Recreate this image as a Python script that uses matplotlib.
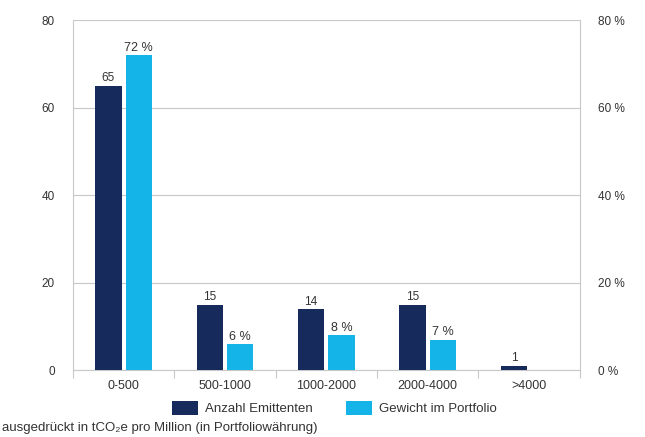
import numpy as np
import matplotlib
matplotlib.use('Agg')
import matplotlib.pyplot as plt

plt.rcParams['font.family'] = ['Liberation Sans', 'DejaVu Sans']

# emission intensity buckets
categories = ['0-500', '500-1000', '1000-2000', '2000-4000', '>4000']
anzahl = [65, 15, 14, 15, 1]          # number of issuers
gewicht = [72, 6, 8, 7, 0]            # portfolio weight in %

dark = '#172a5c'
light = '#14b4e8'
txt = '#333333'

fig = plt.figure(figsize=(6.45, 4.37), dpi=100)
ax = fig.add_axes([0.113, 0.153, 0.786, 0.801])

x = np.arange(len(categories))
w = 0.26
b1 = ax.bar(x - 0.15, anzahl, w, color=dark, label='Anzahl Emittenten', zorder=3)
b2 = ax.bar(x + 0.15, gewicht, w, color=light, label='Gewicht im Portfolio', zorder=3)

for rect, v in zip(b1, anzahl):
    ax.text(rect.get_x() + rect.get_width() / 2, v + 0.3, str(v),
            ha='center', va='bottom', fontsize=8.5, color=txt, zorder=4)
for rect, v in zip(b2, gewicht):
    if v > 0:
        ax.text(rect.get_x() + rect.get_width() / 2, v + 0.3, '%d %%' % v,
                ha='center', va='bottom', fontsize=9, color=txt, zorder=4)

ax.set_xlim(-0.5, len(categories) - 0.5)
ax.set_ylim(0, 80)
ax.set_yticks([0, 20, 40, 60, 80])
ax.grid(axis='y', color='#c8c8c8', linewidth=0.8, zorder=0)
ax.set_xticks(x)
ax.set_xticklabels(categories)
ax.set_xticks(np.arange(len(categories) + 1) - 0.5, minor=True)
ax.tick_params(axis='x', which='major', length=0, pad=7, labelsize=9, labelcolor=txt)
ax.tick_params(axis='x', which='minor', length=6, color='#c8c8c8', width=0.8)
ax.tick_params(axis='y', length=0, pad=13, labelsize=8.5, labelcolor=txt)
for s in ['left', 'right', 'bottom', 'top']:
    ax.spines[s].set_color('#c8c8c8')
    ax.spines[s].set_linewidth(0.8)
ax.spines['top'].set_visible(False)

ax2 = ax.twinx()
ax2.set_ylim(0, 80)
ax2.set_yticks([0, 20, 40, 60, 80])
ax2.set_yticklabels(['%d %%' % t for t in [0, 20, 40, 60, 80]])
ax2.tick_params(axis='y', length=0, pad=13, labelsize=8.5, labelcolor=txt)
for s in ax2.spines.values():
    s.set_visible(False)

fig.legend(handles=[b1, b2], loc='center', bbox_to_anchor=(0.518, 0.066), ncol=2,
           frameon=False, fontsize=9.5, handlelength=2.0, handleheight=1.3,
           columnspacing=2.5, handletextpad=0.5, labelcolor=txt)

fig.text(0.003, 0.021, 'ausgedrückt in tCO₂e pro Million (in Portfoliowährung)',
         fontsize=9.5, color=txt, ha='left', va='center')

fig.savefig('out.png', dpi=100)
